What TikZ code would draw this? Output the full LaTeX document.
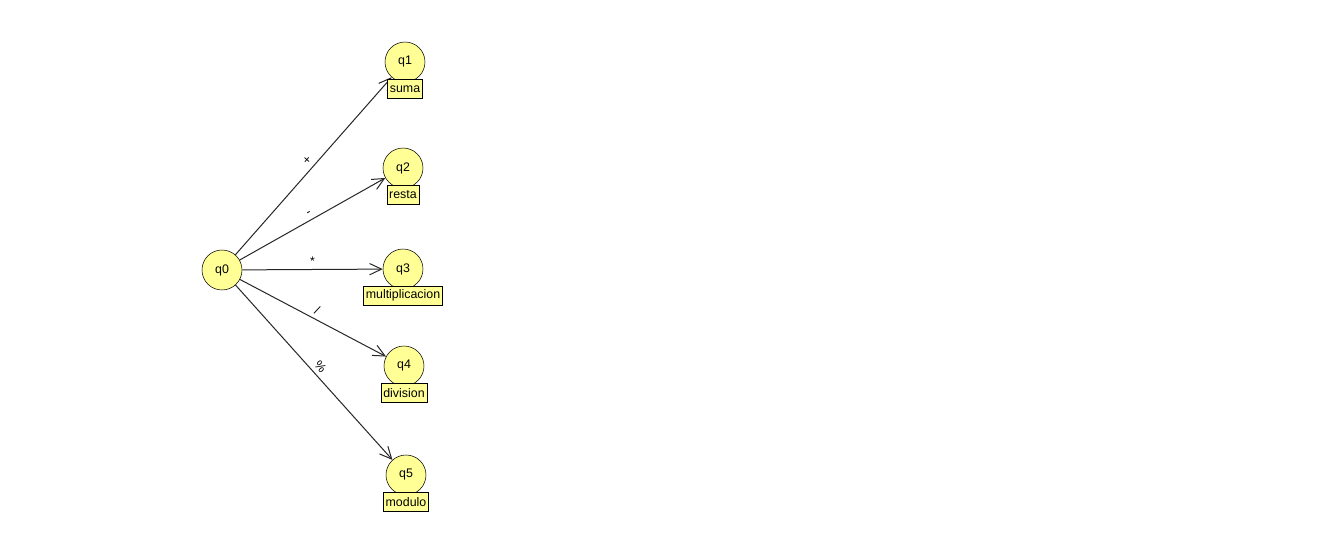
\documentclass[tikz,border=0pt]{standalone}
\usepackage{fontspec}
\setmainfont{Liberation Sans}
\usetikzlibrary{positioning,arrows.meta}
\definecolor{stateyellow}{RGB}{255,255,150}
\begin{document}
\begin{tikzpicture}[x=0.75pt, y=-0.75pt,
  state/.style={circle, draw, fill=stateyellow, minimum size=30pt, inner sep=0pt, font=\fontsize{9.3}{10}\selectfont},
  tag/.style={draw, fill=stateyellow, inner xsep=1.6pt, inner ysep=0pt, minimum height=13.8pt, font=\fontsize{9.3}{10}\selectfont},
  trans/.style={draw=black!85, line width=0.75pt, -{Straight Barb[length=9pt, width=8.5pt]}},
  sym/.style={midway, above, sloped, inner sep=3pt, font=\fontsize{9.3}{10}\selectfont}]
\useasboundingbox (0,0) rectangle (1339,555);
\node[state] (q0) at (222,270){q0};
\node[state] (q1) at (405,62){q1};
\node[state] (q2) at (403,168){q2};
\node[state] (q3) at (403,269){q3};
\node[state] (q4) at (404,366){q4};
\node[state] (q5) at (406,475){q5};
\draw[trans] (q0) -- node[sym]{+} (q1);
\draw[trans] (q0) -- node[sym]{-} (q2);
\draw[trans] (q0) -- node[sym]{*} (q3);
\draw[trans] (q0) -- node[sym]{/} (q4);
\draw[trans] (q0) -- node[sym]{\%} (q5);
\node[tag, below=-2.25pt of q1] (tq1) {suma};
\node[tag, below=-2.25pt of q2] (tq2) {resta};
\node[tag, below=-2.25pt of q3] (tq3) {multiplicacion};
\node[tag, below=-2.25pt of q4] (tq4) {division};
\node[tag, below=-2.25pt of q5] (tq5) {modulo};
\end{tikzpicture}
\end{document}
